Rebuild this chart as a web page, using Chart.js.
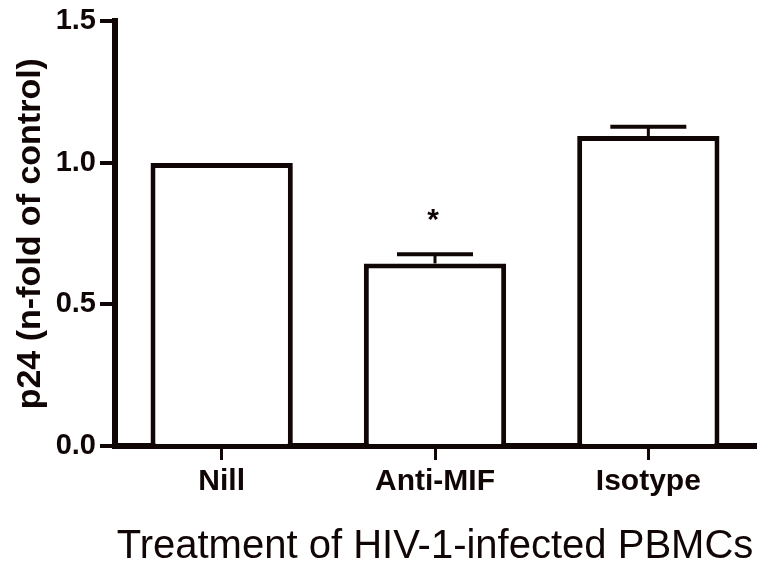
<!DOCTYPE html>
<html>
<head>
<meta charset="utf-8">
<script src="https://cdn.jsdelivr.net/npm/chart.js@4.4.0/dist/chart.umd.min.js"></script>
<style>
  body { margin: 0; background: #fff; }
  #wrap { width: 770px; height: 571px; }
</style>
</head>
<body>
<div id="wrap"><canvas id="barchart" width="770" height="571"></canvas></div>
<script>
// data
var categories = ['Nill', 'Anti-MIF', 'Isotype'];
var meanValues = [1.0, 0.645, 1.095];
var errorValues = [0, 0.032, 0.033];
var significance = ['', '*', ''];
var yTicks = [0, 0.5, 1.0, 1.5];

var ink = '#110606';

// draws the upper error bar and the significance star
var errorBars = {
    id: 'errorBars',
    afterDatasetsDraw: function(chart) {
        var ctx = chart.ctx;
        var y = chart.scales.y;
        var meta = chart.getDatasetMeta(0);
        ctx.save();
        ctx.strokeStyle = ink;
        ctx.fillStyle = ink;
        meta.data.forEach(function(bar, i) {
            var err = errorValues[i];
            var top = y.getPixelForValue(meanValues[i] + err);
            if (err > 0) {
                var base = y.getPixelForValue(meanValues[i]);
                ctx.lineWidth = 3;
                ctx.beginPath();
                ctx.moveTo(bar.x, base);
                ctx.lineTo(bar.x, top);
                ctx.stroke();
                ctx.lineWidth = 4;
                ctx.beginPath();
                ctx.moveTo(bar.x - 38, top);
                ctx.lineTo(bar.x + 38, top);
                ctx.stroke();
            }
            if (significance[i]) {
                ctx.font = 'bold 30px "Liberation Sans"';
                ctx.textAlign = 'center';
                ctx.textBaseline = 'middle';
                ctx.fillText(significance[i], bar.x - 2, top - 34);
            }
        });
        ctx.restore();
    }
};

var ctx = document.getElementById('barchart');
var chart = new Chart(ctx, {
    type: 'bar',
    data: {
        labels: categories,
        datasets: [{
            data: meanValues,
            backgroundColor: '#ffffff',
            borderColor: ink,
            borderWidth: 5,
            barPercentage: 0.667,
            categoryPercentage: 1.0
        }]
    },
    options: {
        responsive: false,
        animation: false,
        layout: { padding: { top: 20, right: 15, left: 0, bottom: 0 } },
        plugins: {
            legend: { display: false },
            tooltip: { enabled: false }
        },
        scales: {
            x: {
                offset: true,
                grid: {
                    offset: false,
                    drawOnChartArea: false,
                    drawTicks: true,
                    tickLength: 14,
                    lineWidth: 3,
                    color: ink
                },
                border: { display: true, width: 6, color: ink },
                ticks: {
                    color: ink,
                    padding: 4,
                    font: { family: 'Liberation Sans', weight: 'bold', size: 30 }
                },
                title: {
                    display: true,
                    text: 'Treatment of HIV-1-infected PBMCs',
                    color: ink,
                    padding: { top: 0, bottom: 0 },
                    font: { family: 'Liberation Sans', size: 40 }
                },
                afterFit: function(scale) { scale.height = 125; }
            },
            y: {
                min: 0,
                max: 1.5,
                grid: {
                    drawOnChartArea: false,
                    drawTicks: true,
                    tickLength: 15,
                    lineWidth: 4,
                    color: ink
                },
                border: { display: true, width: 6, color: ink },
                afterBuildTicks: function(scale) {
                    scale.ticks = yTicks.map(function(v) { return { value: v }; });
                },
                ticks: {
                    color: ink,
                    padding: 4,
                    font: { family: 'Liberation Sans', weight: 'bold', size: 29 },
                    callback: function(v) { return Number(v).toFixed(1); }
                },
                title: {
                    display: true,
                    text: 'p24 (n-fold of control)',
                    color: ink,
                    padding: { top: 10, bottom: 10 },
                    font: { family: 'Liberation Sans', weight: 'bold', size: 34 }
                },
                afterFit: function(scale) { scale.width = 115; }
            }
        }
    },
    plugins: [errorBars]
});
</script>
</body>
</html>
